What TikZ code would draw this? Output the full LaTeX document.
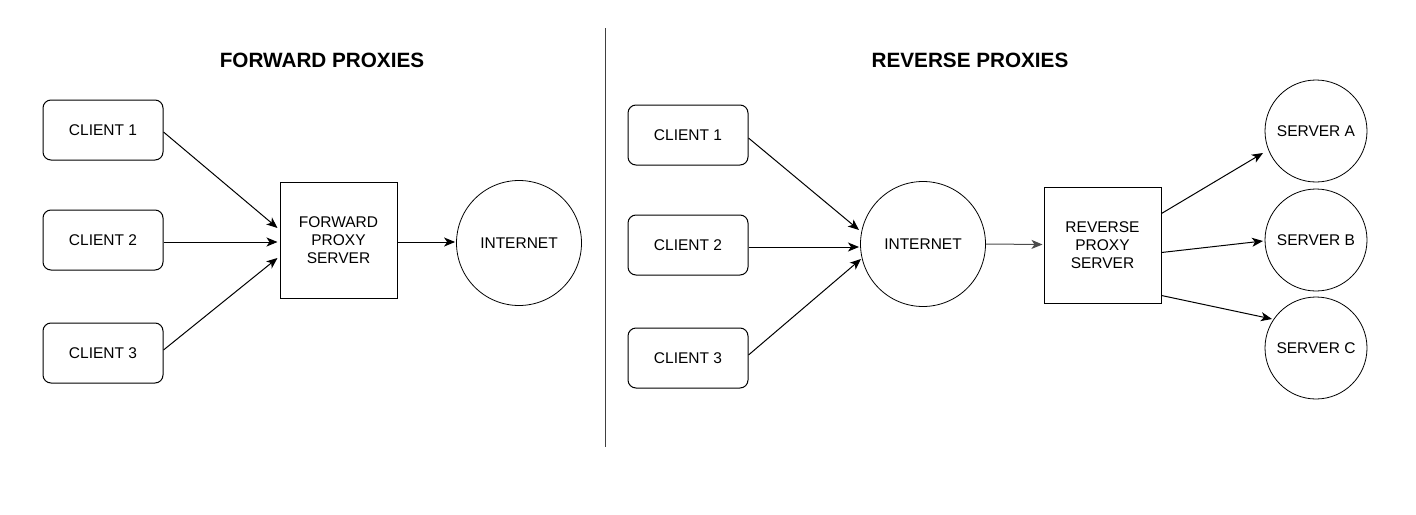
\documentclass[tikz,border=0pt]{standalone}
\usepackage{fontspec}
\setmainfont{Liberation Sans}
\usetikzlibrary{arrows.meta,calc}
\begin{document}
\begin{tikzpicture}[x=1pt,y=-1pt,
  every node/.style={font=\fontsize{15.5pt}{18pt}\selectfont, align=center, inner sep=0pt},
  clientbox/.style={draw, rounded corners=8pt, minimum width=120pt, minimum height=60pt, line width=1pt},
  proxybox/.style={draw, minimum width=117pt, minimum height=116pt, line width=1pt},
  netcircle/.style={draw, circle, minimum size=125pt, line width=0.8pt},
  srvcircle/.style={draw, circle, minimum size=102pt, line width=0.8pt},
  titletext/.style={font=\fontsize{20.7pt}{24pt}\selectfont\bfseries},
  arr/.style={-{Stealth[length=11pt,width=9pt,inset=3pt]}, line width=1pt}]
\useasboundingbox (0,0) rectangle (1416,514);

% titles
\node[titletext] (t1) at (322,60) {FORWARD PROXIES};
\node[titletext] (t2) at (970,60) {REVERSE PROXIES};

% divider
\coordinate (dtop) at (605,28);
\coordinate (dbot) at (605,447);
\draw[line width=1pt, black!75] (dtop) -- (dbot);

% forward side
\node[clientbox] (fc1) at (103,130) {CLIENT 1};
\node[clientbox] (fc2) at (103,240) {CLIENT 2};
\node[clientbox] (fc3) at (103,353) {CLIENT 3};
\node[proxybox] (fp) at (338.5,240) {FORWARD\\PROXY\\SERVER};
\node[netcircle] (fi) at (519,243) {INTERNET};

\draw[arr] ($(fc1.east)+(0,2)$) -- ($(fp.west)+(-2,-12)$);
\draw[arr] ($(fc2.east)+(0,2)$) -- ($(fp.west)+(-2,2)$);
\draw[arr] ($(fc3.east)+(0,-3)$) -- ($(fp.west)+(-2,18)$);
\draw[arr] ($(fp.east)+(0,2)$) -- ($(fi.west)+(-1,-1)$);

% reverse side
\node[clientbox] (rc1) at (688,135) {CLIENT 1};
\node[clientbox] (rc2) at (688,245) {CLIENT 2};
\node[clientbox] (rc3) at (688,358) {CLIENT 3};
\node[netcircle] (ri) at (923,244) {INTERNET};
\node[proxybox] (rp) at (1102.5,245.5) {REVERSE\\PROXY\\SERVER};
\node[srvcircle] (sa) at (1316,131) {SERVER A};
\node[srvcircle] (sb) at (1316,240) {SERVER B};
\node[srvcircle] (sc) at (1316,348) {SERVER C};

\draw[arr] ($(rc1.east)+(0,3)$) -- ($(ri.center)+(-64,-14)$);
\draw[arr] ($(rc2.east)+(0,2)$) -- ($(ri.center)+(-64,3)$);
\draw[arr] ($(rc3.east)+(0,-3)$) -- ($(ri.center)+(-62,15)$);
\draw[arr, black!70] (ri.east) -- ($(rp.west)+(-1,-1)$);

\draw[arr] ($(rp.east)+(0,-32)$) -- ($(sa.center)+(-53,22)$);
\draw[arr] ($(rp.east)+(0,7)$) -- ($(sb.center)+(-53,1)$);
\draw[arr] ($(rp.east)+(0,50)$) -- ($(sc.center)+(-44,-29)$);
\end{tikzpicture}
\end{document}
